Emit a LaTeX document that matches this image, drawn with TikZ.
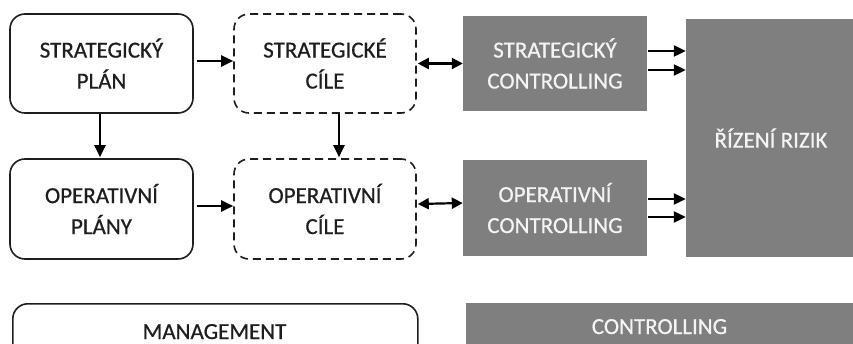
\documentclass[tikz,border=0pt]{standalone}
\usepackage{fontspec}
\setmainfont{Carlito}[FakeBold=0.6]
\usetikzlibrary{arrows.meta}
\definecolor{boxgray}{HTML}{7F7F7F}
\definecolor{lighttext}{HTML}{F4F4F4}
\definecolor{darktext}{HTML}{1E1E1E}
\tikzset{
  base/.style={align=center, inner sep=0pt, font=\fontsize{23}{31}\selectfont},
  plainbox/.style={base, draw=darktext, line width=1.6pt, rounded corners=15pt, text=darktext},
  dashbox/.style={plainbox, dash pattern=on 8pt off 5pt},
  graybox/.style={base, fill=boxgray, text=lighttext},
  tip/.style={},
  arr/.style={line width=2.2pt, -{Triangle[length=12pt,width=11pt]}},
  dblarr/.style={line width=2.2pt, {Triangle[length=11pt,width=11pt]}-{Triangle[length=11pt,width=11pt]}}
}
\begin{document}
\begin{tikzpicture}[x=1pt, y=-1pt]
\useasboundingbox (0,0) rectangle (853,344);
\begin{scope}
\clip (0,0) rectangle (853,344);
% planning column
\node[plainbox, minimum width=183pt, minimum height=99pt] (sp) at (101.5,63.5) {STRATEGICKÝ\\PLÁN};
\node[plainbox, minimum width=183pt, minimum height=100pt] (op) at (101.5,209) {OPERATIVNÍ\\PLÁNY};
% goals column
\node[dashbox, minimum width=182pt, minimum height=99pt] (sc) at (325,63.5) {STRATEGICKÉ\\CÍLE};
\node[dashbox, minimum width=182pt, minimum height=100pt] (oc) at (325,209) {OPERATIVNÍ\\CÍLE};
% controlling column
\node[graybox, minimum width=184pt, minimum height=95pt] (sctrl) at (555,63.5) {STRATEGICKÝ\\CONTROLLING};
\node[graybox, minimum width=184pt, minimum height=96pt] (octrl) at (555,208) {OPERATIVNÍ\\CONTROLLING};
% risk management
\node[graybox, minimum width=170pt, minimum height=238pt] (rr) at (771,138) {ŘÍZENÍ RIZIK};
% legend bars
\node[plainbox, minimum width=405pt, minimum height=70pt, anchor=north west] (mg) at (12,303) {};
\node[base, text=darktext, anchor=base] (mgt) at (214.5,339) {MANAGEMENT};
\node[graybox, minimum width=390pt, minimum height=70pt, anchor=north west] (ct) at (466,303) {};
\node[base, text=lighttext, anchor=base] (ctt) at (659.5,334) {CONTROLLING};
\end{scope}
% connectors
\draw[arr] ([xshift=3pt,yshift=2.5pt]sp.east) -- ([yshift=2.5pt]sc.west);
\draw[arr] ([xshift=3pt,yshift=3pt]op.east) -- ([yshift=3pt]oc.west);
\draw[arr] ([xshift=-1.5pt]sp.south) -- ([xshift=-1.5pt,yshift=1pt]op.north);
\draw[arr] ([xshift=14pt]sc.south) -- ([xshift=14pt,yshift=1pt]oc.north);
\draw[dblarr] ([xshift=1pt]sc.east) -- (sctrl.west);
\draw[dblarr] ([xshift=1pt,yshift=5pt]oc.east) -- ([yshift=5pt]octrl.west);
\draw[arr] ([xshift=1pt,yshift=12.5pt]sctrl.east) -- ([yshift=12.5pt]sctrl.east -| rr.west);
\draw[arr] ([xshift=1pt,yshift=-6.5pt]sctrl.east) -- ([yshift=-6.5pt]sctrl.east -| rr.west);
\draw[arr] ([xshift=1pt,yshift=9pt]octrl.east) -- ([yshift=9pt]octrl.east -| rr.west);
\draw[arr] ([xshift=1pt,yshift=-9pt]octrl.east) -- ([yshift=-9pt]octrl.east -| rr.west);
\end{tikzpicture}
\end{document}
